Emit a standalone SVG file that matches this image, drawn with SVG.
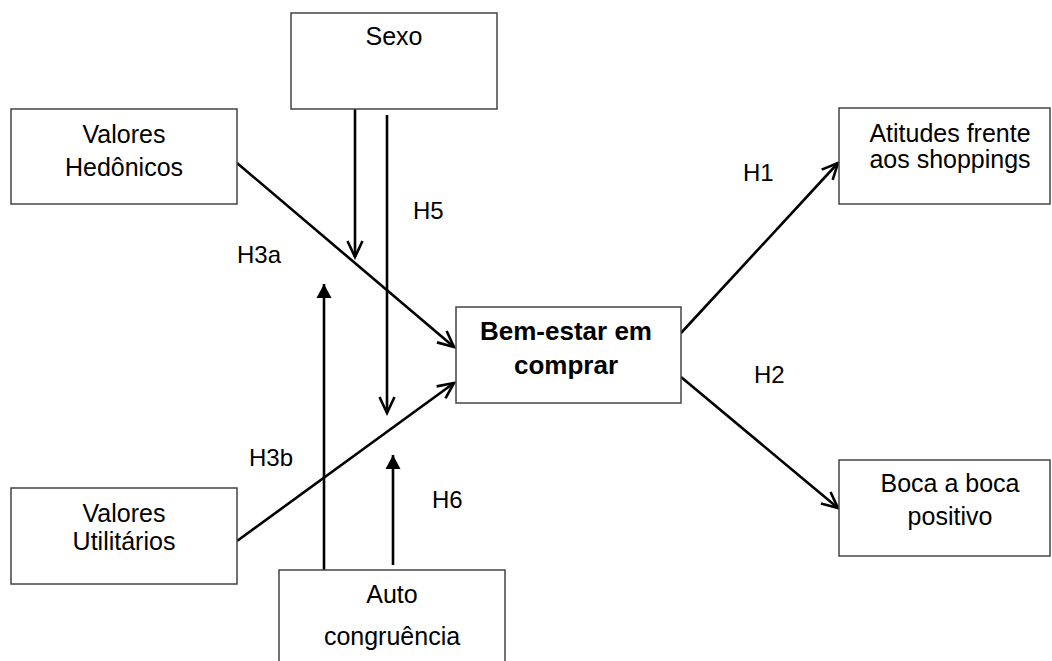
<svg xmlns="http://www.w3.org/2000/svg" width="1052" height="661" viewBox="0 0 1052 661">
<style>
.box{fill:#fff;stroke:#444;stroke-width:1.5}
.t{font-family:"Liberation Sans",Arial,sans-serif;font-size:25px;fill:#000;text-anchor:middle}
.b{font-weight:bold;font-size:26px}
.h{font-family:"Liberation Sans",Arial,sans-serif;font-size:24px;fill:#000}
.c{stroke:#000;stroke-width:2.6;fill:none}
</style>
<defs>
<marker id="open" markerUnits="userSpaceOnUse" markerWidth="22" markerHeight="22" viewBox="0 0 22 22" refX="19" refY="11" orient="auto">
<path d="M3,3.5 L19,11 L3,18.5" fill="none" stroke="#000" stroke-width="2.6"/>
</marker>
<marker id="fill" markerUnits="userSpaceOnUse" markerWidth="16" markerHeight="16" viewBox="0 0 16 16" refX="14" refY="8" orient="auto">
<path d="M0,0.5 L14,8 L0,15.5 z" fill="#000"/>
</marker>
</defs>
<rect width="1052" height="661" fill="#fff"/>
<g id="connectors">
<line class="c" x1="237" y1="163" x2="454" y2="347" marker-end="url(#open)"/>
<line class="c" x1="237" y1="541" x2="454" y2="383" marker-end="url(#open)"/>
<line class="c" x1="355" y1="109" x2="355" y2="257" marker-end="url(#open)"/>
<line class="c" x1="387" y1="115" x2="387" y2="413" marker-end="url(#open)"/>
<line class="c" x1="324" y1="570" x2="324" y2="284" marker-end="url(#fill)"/>
<line class="c" x1="393" y1="565" x2="393" y2="455" marker-end="url(#fill)"/>
<line class="c" x1="681" y1="333" x2="838" y2="163" marker-end="url(#open)"/>
<line class="c" x1="681" y1="377" x2="838" y2="508" marker-end="url(#open)"/>
<text class="h" x="743" y="181">H1</text>
<text class="h" x="754" y="383">H2</text>
<text class="h" x="237" y="263">H3a</text>
<text class="h" x="249" y="466">H3b</text>
<text class="h" x="413" y="219">H5</text>
<text class="h" x="432" y="508">H6</text>
</g>
<g id="sexo">
<rect class="box" x="291" y="13" width="206" height="96"/>
<text class="t" x="394" y="45">Sexo</text>
</g>
<g id="hedonicos">
<rect class="box" x="11" y="109" width="226" height="95"/>
<text class="t" x="124" y="143">Valores</text>
<text class="t" x="124" y="176">Hedônicos</text>
</g>
<g id="utilitarios">
<rect class="box" x="11" y="488" width="226" height="96"/>
<text class="t" x="124" y="522">Valores</text>
<text class="t" x="124" y="550">Utilitários</text>
</g>
<g id="bemestar">
<rect class="box" x="456" y="307" width="225" height="96"/>
<text class="t b" x="566" y="340">Bem-estar em</text>
<text class="t b" x="566" y="374">comprar</text>
</g>
<g id="auto">
<rect class="box" x="279" y="570" width="226" height="100"/>
<text class="t" x="392" y="603">Auto</text>
<text class="t" x="392" y="645">congruência</text>
</g>
<g id="atitudes">
<rect class="box" x="839" y="108" width="211" height="96"/>
<text class="t" x="950" y="142">Atitudes frente</text>
<text class="t" x="950" y="168">aos shoppings</text>
</g>
<g id="boca">
<rect class="box" x="839" y="460" width="211" height="96"/>
<text class="t" x="950" y="492">Boca a boca</text>
<text class="t" x="950" y="525">positivo</text>
</g>
</svg>
